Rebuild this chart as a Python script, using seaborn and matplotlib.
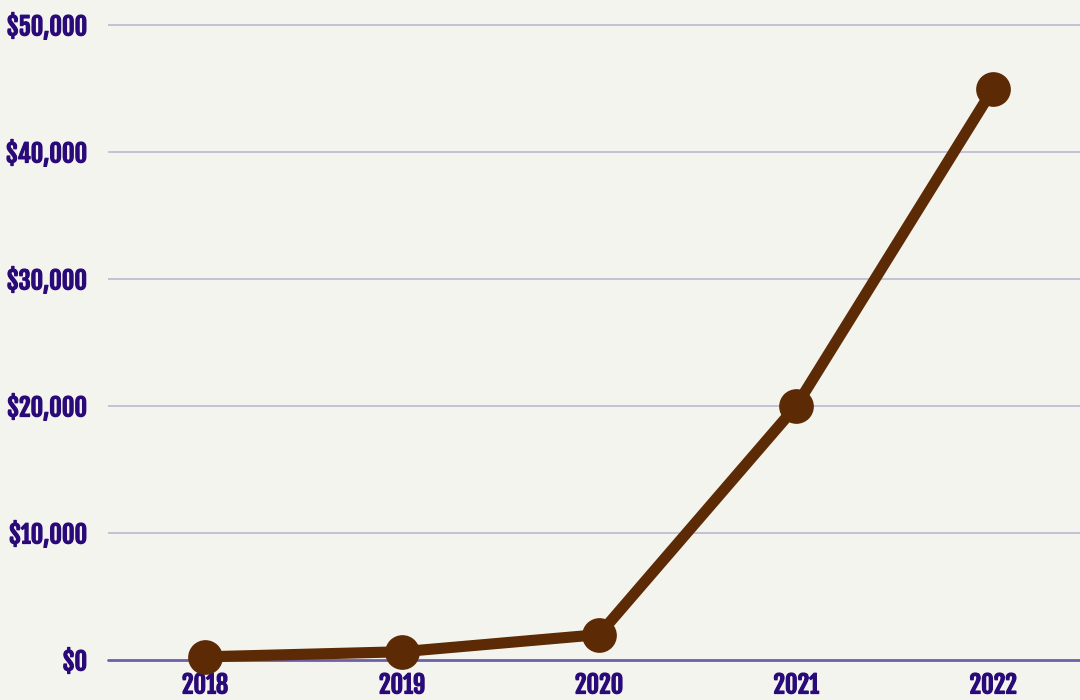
import matplotlib
matplotlib.use("Agg")
import matplotlib.pyplot as plt
import matplotlib.patheffects as pe
import seaborn as sns
import pandas as pd
from matplotlib.ticker import FuncFormatter

years = [2018, 2019, 2020, 2021, 2022]
amounts = [250, 650, 2000, 20000, 45000]
y_ticks = [0, 10000, 20000, 30000, 40000, 50000]

bg = "#f4f4ef"
line_color = "#5c2a04"
label_color = "#2a0a78"

sns.set_style("white")
plt.rcParams['font.family'] = ['Fjalla One', 'Oswald', 'DejaVu Sans']

df = pd.DataFrame({"year": years, "amount": amounts})

fig = plt.figure(figsize=(10.8, 7), dpi=100, facecolor=bg)
ax = fig.add_axes([0.1, 40 / 700, 0.9, 1 - 40 / 700 - 12.3 / 700])
ax.set_facecolor(bg)

sns.lineplot(data=df, x="year", y="amount", ax=ax, color=line_color,
             linewidth=8, marker="o", markersize=25, markeredgewidth=0,
             markerfacecolor=line_color, clip_on=False, zorder=5)

ax.set_xlim(2017.508, 2022.44)
ax.set_ylim(0, 51000)
ax.set_xticks(years)
ax.set_yticks(y_ticks)
ax.yaxis.set_major_formatter(FuncFormatter(lambda v, p: f"${v:,.0f}"))

for v in y_ticks[1:]:
    ax.axhline(v, color="#bcb8d0", linewidth=1.2, zorder=1)
ax.axhline(0, color="#6e5fa8", linewidth=2, zorder=2, clip_on=False)

for s in ax.spines.values():
    s.set_visible(False)

ax.tick_params(axis="both", length=0, labelsize=17.5, labelcolor=label_color)
ax.tick_params(axis="y", pad=15)
ax.tick_params(axis="x", pad=9)
# make the labels look a bit heavier
for lab in ax.get_xticklabels() + ax.get_yticklabels():
    lab.set_path_effects([pe.withStroke(linewidth=0.9, foreground=label_color)])
ax.set_xlabel("")
ax.set_ylabel("")

fig.savefig("out.png", dpi=100, facecolor=bg)
